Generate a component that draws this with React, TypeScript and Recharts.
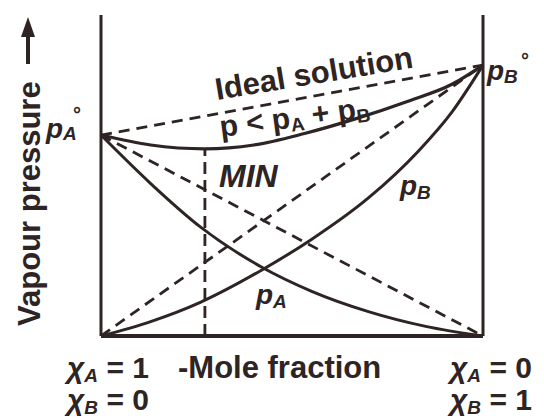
import React from 'react';
import { ComposedChart, Line, XAxis, YAxis, ReferenceLine } from 'recharts';

// x = mole fraction of B (0 = pure A on the left, 1 = pure B on the right)
// y = vapour pressure, arbitrary units
const P_A_STAR = 62.6;
const P_B_STAR = 84.4;
const MIN_X = 0.272;
const MIN_P = 58.3;

const pAx = [0, 0.13, 0.26, 0.42, 0.55, 0.7, 0.85, 1];
const pAv = [P_A_STAR, 47.5, 34.0, 21.5, 14.0, 7.6, 3.0, 0];

const pBx = [0, 0.13, 0.26, 0.42, 0.55, 0.7, 0.83, 0.92, 1];
const pBv = [0, 4.5, 10.5, 20.5, 30.0, 43.0, 57.5, 70.0, P_B_STAR];

const totalX = [0, 0.13, MIN_X, 0.4, 0.53, 0.67, 0.8, 0.92, 1];
const totalV = [P_A_STAR, 59.5, MIN_P, 59.5, 63.0, 67.8, 73.0, 78.5, P_B_STAR];

const ends = [0, 1];
const idealTotal = [P_A_STAR, P_B_STAR];
const idealA = [P_A_STAR, 0];
const idealB = [0, P_B_STAR];
const minX = [MIN_X, MIN_X];
const minV = [0, MIN_P];

const toPoints = (xs: number[], vs: number[]) => xs.map((x, i) => ({ x, v: vs[i] }));

const INK = '#2e2424';
const FONT = '"Liberation Sans", Arial, sans-serif';

export default function App() {
  return (
    <div style={{ position: 'fixed', left: 0, top: 0, width: 544, height: 418, background: '#fff' }}>
      <ComposedChart width={544} height={418} margin={{ top: 15, right: 61, bottom: 82, left: 101 }}>
        <XAxis type="number" dataKey="x" domain={[0, 1]} hide />
        <YAxis type="number" domain={[0, 100]} hide />
        <ReferenceLine x={0} stroke={INK} strokeWidth={3} />
        <ReferenceLine x={1} stroke={INK} strokeWidth={3} />
        <ReferenceLine y={0} stroke={INK} strokeWidth={4} />
        <Line data={toPoints(ends, idealTotal)} dataKey="v" type="linear" stroke={INK} strokeWidth={2.8} strokeDasharray="11 7" dot={false} isAnimationActive={false} />
        <Line data={toPoints(ends, idealA)} dataKey="v" type="linear" stroke={INK} strokeWidth={2.8} strokeDasharray="11 7" dot={false} isAnimationActive={false} />
        <Line data={toPoints(ends, idealB)} dataKey="v" type="linear" stroke={INK} strokeWidth={2.8} strokeDasharray="11 7" dot={false} isAnimationActive={false} />
        <Line data={toPoints(minX, minV)} dataKey="v" type="linear" stroke={INK} strokeWidth={2.8} strokeDasharray="12 6" dot={false} isAnimationActive={false} />
        <Line data={toPoints(pAx, pAv)} dataKey="v" type="monotone" stroke={INK} strokeWidth={3} dot={false} isAnimationActive={false} />
        <Line data={toPoints(pBx, pBv)} dataKey="v" type="monotone" stroke={INK} strokeWidth={3} dot={false} isAnimationActive={false} />
        <Line data={toPoints(totalX, totalV)} dataKey="v" type="monotone" stroke={INK} strokeWidth={3.2} dot={false} isAnimationActive={false} />
      </ComposedChart>
      <svg width={544} height={418} style={{ position: 'absolute', left: 0, top: 0, pointerEvents: 'none' }}
        fontFamily={FONT} fontWeight="bold" fill={INK}>
        {/* y axis title + arrow */}
        <text x={40} y={326} fontSize={31} transform="rotate(-90 40 326)">Vapour pressure</text>
        <line x1={28} y1={64} x2={28} y2={34} stroke={INK} strokeWidth={4} />
        <polygon points="28,17 21,37 35,37" fill={INK} />

        {/* pure component pressures */}
        <text x={46} y={138} fontSize={28}>
          <tspan fontStyle="italic">p</tspan>
          <tspan fontSize={19} fontStyle="italic" dy={2}>A</tspan>
        </text>
        <text x={73} y={121} fontSize={20}>°</text>
        <text x={487} y={80} fontSize={28}>
          <tspan fontStyle="italic">p</tspan>
          <tspan fontSize={19} fontStyle="italic" dy={3}>B</tspan>
        </text>
        <text x={521} y={67} fontSize={20}>°</text>

        <text x={217} y={100} fontSize={31} transform="rotate(-9.4 217 100)">Ideal solution</text>
        <text x={221} y={137} fontSize={30} transform="rotate(-7.5 221 137)">
          p &lt; p<tspan fontSize={19} dy={4}>A</tspan>
          <tspan dy={-4}> + p</tspan>
          <tspan fontSize={19} dy={4}>B</tspan>
        </text>
        <text x={219} y={187} fontSize={32} fontStyle="italic">MIN</text>

        <text x={400} y={195} fontSize={28}>
          <tspan fontStyle="italic">p</tspan>
          <tspan fontSize={19} fontStyle="italic" dy={4}>B</tspan>
        </text>
        <text x={256} y={304} fontSize={28}>
          <tspan fontStyle="italic">p</tspan>
          <tspan fontSize={19} fontStyle="italic" dy={4}>A</tspan>
        </text>

        {/* x axis end labels */}
        <text x={67} y={378} fontSize={30}>
          <tspan fontStyle="italic">χ</tspan>
          <tspan fontSize={19} fontStyle="italic" dy={4}>A</tspan>
          <tspan dy={-4}> = 1</tspan>
        </text>
        <text x={67} y={410} fontSize={30}>
          <tspan fontStyle="italic">χ</tspan>
          <tspan fontSize={19} fontStyle="italic" dy={4}>B</tspan>
          <tspan dy={-4}> = 0</tspan>
        </text>
        <text x={178} y={378} fontSize={31}>-Mole fraction</text>
        <text x={450} y={378} fontSize={30}>
          <tspan fontStyle="italic">χ</tspan>
          <tspan fontSize={19} fontStyle="italic" dy={4}>A</tspan>
          <tspan dy={-4}> = 0</tspan>
        </text>
        <text x={450} y={410} fontSize={30}>
          <tspan fontStyle="italic">χ</tspan>
          <tspan fontSize={19} fontStyle="italic" dy={4}>B</tspan>
          <tspan dy={-4}> = 1</tspan>
        </text>
      </svg>
    </div>
  );
}
